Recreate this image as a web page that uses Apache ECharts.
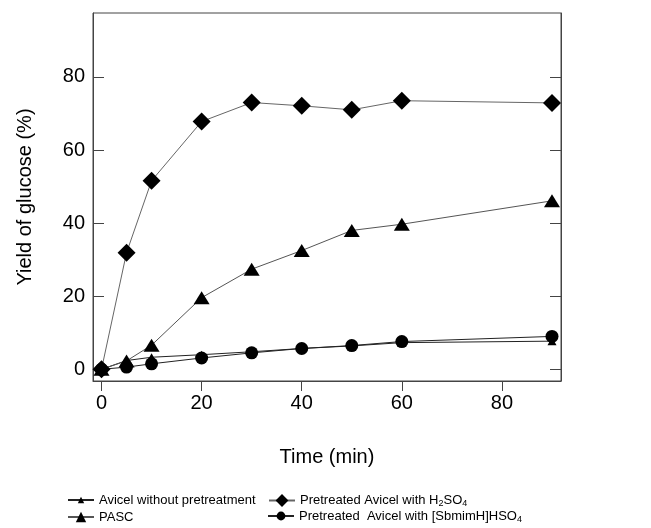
<!DOCTYPE html>
<html>
<head>
<meta charset="utf-8">
<script src="https://cdn.jsdelivr.net/npm/echarts@6/dist/echarts.min.js"></script>
<style>
  html, body { margin: 0; padding: 0; background: #fff; }
  #chart { width: 651px; height: 528px; }
</style>
</head>
<body>
<div id="chart"></div>
<script>
var times = [0, 5, 10, 20, 30, 40, 50, 60, 90];
var avicelRaw = [0, 2.4, 3.3, 4.0, 4.8, 5.7, 6.4, 7.3, 7.7];
var pasc = [0, 2.3, 6.6, 19.6, 27.4, 32.5, 38.0, 39.7, 46.1];
var h2so4 = [0, 31.9, 51.6, 67.8, 73.0, 72.1, 71.0, 73.5, 72.9];
var sbmim = [0, 0.6, 1.5, 3.1, 4.5, 5.7, 6.5, 7.6, 9.0];
var tickValues = [0, 20, 40, 60, 80];

var names = [
  'Avicel without pretreatment',
  'PASC',
  'Pretreated Avicel with H2SO4',
  'Pretreated  Avicel with [SbmimH]HSO4'
];

function pairs(ys) {
  return times.map(function (t, i) { return [t, ys[i]]; });
}

var font = "'Liberation Sans', Arial, sans-serif";

function legendLabel(name) {
  if (name === names[2]) return '{a|Pretreated Avicel with H}{s|2}{a|SO}{s|4}';
  if (name === names[3]) return '{a|Pretreated  Avicel with [SbmimH]HSO}{s|4}';
  return '{a|' + name + '}';
}

var legendText = {
  color: '#000',
  fontFamily: font,
  rich: {
    a: { fontSize: 13, fontFamily: font, color: '#000' },
    s: { fontSize: 9, fontFamily: font, color: '#000', verticalAlign: 'bottom', padding: [7, 0, 0, 0] }
  }
};

// one legend box per entry so the two-column layout is fixed;
// itemHeight sets the marker size, top keeps the row centre
function legendAt(name, left, centerY, h) {
  return {
    data: [name], left: left, top: centerY - Math.max(h, 13) / 2,
    itemWidth: 26, itemHeight: h, itemGap: 0, padding: 0,
    formatter: legendLabel, textStyle: legendText
  };
}

var option = {
  backgroundColor: '#fff',
  animation: false,
  grid: {
    left: 93, right: 90, top: 13, bottom: 147,
    show: true, borderColor: '#444', borderWidth: 1
  },
  legend: [
    legendAt(names[0], 67, 500, 8),
    legendAt(names[1], 67, 517, 13),
    legendAt(names[2], 268, 502, 16),
    legendAt(names[3], 267, 516, 11)
  ],
  xAxis: {
    type: 'value', min: -1.7, max: 91.8, position: 'bottom',
    name: 'Time (min)', nameLocation: 'middle', nameGap: 66,
    nameTextStyle: { fontSize: 20, fontFamily: font, color: '#000' },
    splitLine: { show: false },
    axisLine: { show: true, onZero: false, lineStyle: { color: '#444' } },
    axisTick: { show: true, inside: false, length: 10, customValues: tickValues, lineStyle: { color: '#444' } },
    axisLabel: { customValues: tickValues, fontSize: 20, fontFamily: font, color: '#000', margin: 12 }
  },
  yAxis: [
    {
      type: 'value', min: -3.2, max: 97.5,
      name: 'Yield of glucose (%)', nameLocation: 'middle', nameGap: 58,
      nameTextStyle: { fontSize: 20, fontFamily: font, color: '#000' },
      splitLine: { show: false },
      axisLine: { show: true, onZero: false, lineStyle: { color: '#444' } },
      axisTick: { show: true, inside: true, length: 11, customValues: tickValues, lineStyle: { color: '#444' } },
      axisLabel: { customValues: tickValues, fontSize: 20, fontFamily: font, color: '#000', margin: 8 }
    },
    {
      type: 'value', min: -3.2, max: 97.5, position: 'right',
      splitLine: { show: false },
      axisLine: { show: true, onZero: false, lineStyle: { color: '#444' } },
      axisTick: { show: true, inside: true, length: 11, customValues: tickValues, lineStyle: { color: '#444' } },
      axisLabel: { show: false }
    }
  ],
  series: [
    {
      name: names[0], type: 'line', data: pairs(avicelRaw),
      symbol: 'triangle', symbolSize: [9, 8],
      itemStyle: { color: '#000' },
      lineStyle: { color: '#222', width: 1 }
    },
    {
      name: names[1], type: 'line', data: pairs(pasc),
      symbol: 'triangle', symbolSize: [16, 13],
      itemStyle: { color: '#000' },
      lineStyle: { color: '#555', width: 1 }
    },
    {
      name: names[3], type: 'line', data: pairs(sbmim),
      symbol: 'circle', symbolSize: 13,
      itemStyle: { color: '#000' },
      lineStyle: { color: '#222', width: 1 }
    },
    {
      name: names[2], type: 'line', data: pairs(h2so4),
      symbol: 'diamond', symbolSize: 18,
      itemStyle: { color: '#000' },
      lineStyle: { color: '#666', width: 1 }
    }
  ]
};

var myChart = echarts.init(document.getElementById('chart'));
myChart.setOption(option, true);
</script>
</body>
</html>
